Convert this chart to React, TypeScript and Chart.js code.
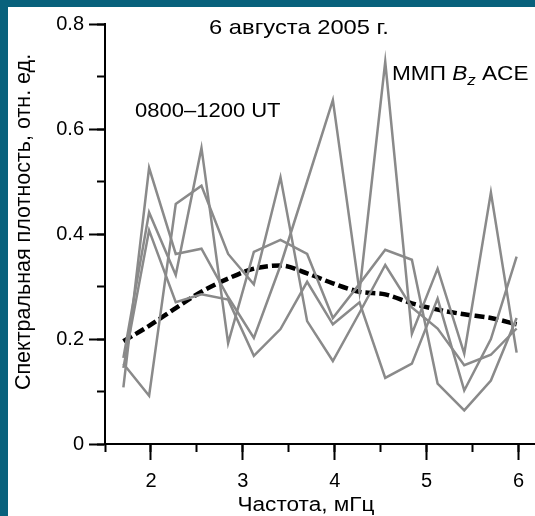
import React, { useEffect, useRef } from "react";
import { Chart, registerables } from "chart.js";

Chart.register(...registerables);

// Frequency grid, mHz
const FREQ = [1.70, 1.98, 2.27, 2.55, 2.84, 3.12, 3.41, 3.70, 3.98, 4.27, 4.55, 4.84, 5.12, 5.41, 5.70, 5.98];

// Individual spectra (relative units)
const SPEC_A = [0.108, 0.526, 0.362, 0.372, 0.280, 0.202, 0.340, 0.500, 0.655, 0.290, 0.728, 0.210, 0.334, 0.172, 0.479, 0.174];
const SPEC_B = [0.164, 0.441, 0.322, 0.564, 0.192, 0.366, 0.389, 0.362, 0.240, 0.305, 0.370, 0.351, 0.115, 0.064, 0.121, 0.240];
const SPEC_C = [0.145, 0.407, 0.270, 0.285, 0.275, 0.168, 0.219, 0.309, 0.228, 0.270, 0.126, 0.153, 0.277, 0.102, 0.200, 0.357];
const SPEC_D = [0.153, 0.092, 0.457, 0.492, 0.362, 0.304, 0.508, 0.234, 0.158, 0.250, 0.341, 0.260, 0.220, 0.150, 0.170, 0.220];

// Smoothed mean spectrum
const SPEC_MEAN = [0.196, 0.225, 0.259, 0.290, 0.315, 0.334, 0.340, 0.325, 0.306, 0.290, 0.285, 0.268, 0.256, 0.247, 0.240, 0.228];

const X_MIN = 1.5;
const X_MAX = 6.18;
const Y_MIN = 0;
const Y_MAX = 0.8;

const TITLE = "6 августа 2005 г.";
const INTERVAL = "0800–1200 UT";
const X_TITLE = "Частота, мГц";
const Y_TITLE = "Спектральная плотность, отн. ед.";

const FONT = '"Liberation Sans", Arial, Helvetica, sans-serif';
const TEAL = "#08617c";
const GRAY = "#8a8a8a";

const toPoints = (ys: number[]) => FREQ.map((x, i) => ({ x, y: ys[i] }));

function stretchedText(
  ctx: CanvasRenderingContext2D,
  text: string,
  x: number,
  y: number,
  sx: number,
  align: CanvasTextAlign
) {
  ctx.save();
  ctx.translate(x, y);
  ctx.scale(sx, 1);
  ctx.textAlign = align;
  ctx.fillText(text, 0, 0);
  ctx.restore();
}

const annotate = {
  id: "annotate",
  afterDraw(chart: any) {
    const ctx = chart.ctx as CanvasRenderingContext2D;
    ctx.save();
    ctx.fillStyle = "#000";
    ctx.textBaseline = "alphabetic";

    ctx.font = `21px ${FONT}`;
    stretchedText(ctx, TITLE, 291, 27, 1.13, "center");
    ctx.font = `20px ${FONT}`;
    stretchedText(ctx, INTERVAL, 127, 110, 1.1, "left");

    // ММП Bz ACE
    const sx = 1.13;
    let x = 384;
    const yb = 73;
    ctx.font = `20px ${FONT}`;
    stretchedText(ctx, "ММП ", x, yb, sx, "left");
    x += ctx.measureText("ММП ").width * sx;
    ctx.font = `italic 20px ${FONT}`;
    stretchedText(ctx, "B", x, yb, sx, "left");
    x += ctx.measureText("B").width * sx;
    ctx.font = `italic 15px ${FONT}`;
    stretchedText(ctx, "z", x, yb + 5, sx, "left");
    x += ctx.measureText("z").width * sx;
    ctx.font = `20px ${FONT}`;
    stretchedText(ctx, " ACE", x, yb, sx, "left");

    // axis titles
    ctx.font = `20px ${FONT}`;
    stretchedText(ctx, X_TITLE, 298, 504, 1.13, "center");

    ctx.font = `21.5px ${FONT}`;
    ctx.translate(22, 215);
    ctx.rotate(-Math.PI / 2);
    ctx.textAlign = "center";
    ctx.fillText(Y_TITLE, 0, 0);
    ctx.restore();
  },
};

export default function App() {
  const ref = useRef<HTMLCanvasElement | null>(null);

  useEffect(() => {
    if (!ref.current) return;
    const grayLine = (ys: number[]) => ({
      data: toPoints(ys),
      borderColor: GRAY,
      borderWidth: 2.5,
      pointRadius: 0,
      tension: 0,
      fill: false,
    });
    const tickFont = { family: FONT, size: 20 };
    const chart = new Chart(ref.current, {
      type: "line",
      data: {
        datasets: [
          grayLine(SPEC_A),
          grayLine(SPEC_B),
          grayLine(SPEC_C),
          grayLine(SPEC_D),
          {
            data: toPoints(SPEC_MEAN),
            borderColor: "#000",
            borderWidth: 4.5,
            borderDash: [10, 4],
            pointRadius: 0,
            tension: 0.4,
            cubicInterpolationMode: "monotone",
            fill: false,
          },
        ],
      },
      options: {
        responsive: false,
        animation: false,
        devicePixelRatio: 1,
        layout: { padding: { top: 13, right: 0, left: 0, bottom: 0 } },
        plugins: {
          legend: { display: false },
          tooltip: { enabled: false },
          title: { display: false },
        },
        scales: {
          x: {
            type: "linear",
            position: "bottom",
            weight: 1,
            min: X_MIN,
            max: X_MAX,
            afterFit: (s: any) => {
              s.height = 72;
            },
            border: { display: true, color: "#000", width: 2 },
            grid: {
              drawOnChartArea: false,
              drawTicks: true,
              tickLength: 16,
              tickColor: "#000",
              tickWidth: 2,
            },
            ticks: {
              stepSize: 1,
              includeBounds: false,
              autoSkip: false,
              maxRotation: 0,
              color: "#000",
              font: tickFont,
              padding: 9,
            },
          },
          xMinor: {
            type: "linear",
            position: "bottom",
            weight: 0,
            min: X_MIN,
            max: X_MAX,
            afterFit: (s: any) => {
              s.height = 0;
            },
            border: { display: false },
            grid: {
              drawOnChartArea: false,
              drawTicks: true,
              tickLength: 8,
              tickColor: "#000",
              tickWidth: 2,
            },
            ticks: {
              stepSize: 0.5,
              includeBounds: false,
              autoSkip: false,
              callback: () => "",
            },
          },
          y: {
            type: "linear",
            position: "left",
            weight: 1,
            min: Y_MIN,
            max: Y_MAX,
            afterFit: (s: any) => {
              s.width = 97;
            },
            border: { display: true, color: "#000", width: 2 },
            grid: {
              drawOnChartArea: false,
              drawTicks: true,
              tickLength: 16,
              tickColor: "#000",
              tickWidth: 2,
            },
            ticks: {
              stepSize: 0.2,
              autoSkip: false,
              color: "#000",
              font: tickFont,
              padding: 5,
              callback: (v: any) => (Math.abs(Number(v)) < 1e-9 ? "0" : Number(v).toFixed(1)),
            },
          },
          yMinor: {
            type: "linear",
            position: "left",
            weight: 0,
            min: Y_MIN,
            max: Y_MAX,
            afterFit: (s: any) => {
              s.width = 0;
            },
            border: { display: false },
            grid: {
              drawOnChartArea: false,
              drawTicks: true,
              tickLength: 8,
              tickColor: "#000",
              tickWidth: 2,
            },
            ticks: {
              stepSize: 0.1,
              autoSkip: false,
              callback: () => "",
            },
          },
        },
      },
      plugins: [annotate],
    } as any);
    return () => chart.destroy();
  }, []);

  return (
    <div
      style={{
        position: "fixed",
        left: 0,
        top: 0,
        width: 535,
        height: 516,
        background: TEAL,
        overflow: "hidden",
      }}
    >
      <div
        style={{
          position: "absolute",
          left: 8,
          top: 7,
          width: 527,
          height: 509,
          background: "#fff",
        }}
      >
        <canvas ref={ref} width={527} height={509} style={{ display: "block", width: 527, height: 509 }} />
      </div>
    </div>
  );
}
